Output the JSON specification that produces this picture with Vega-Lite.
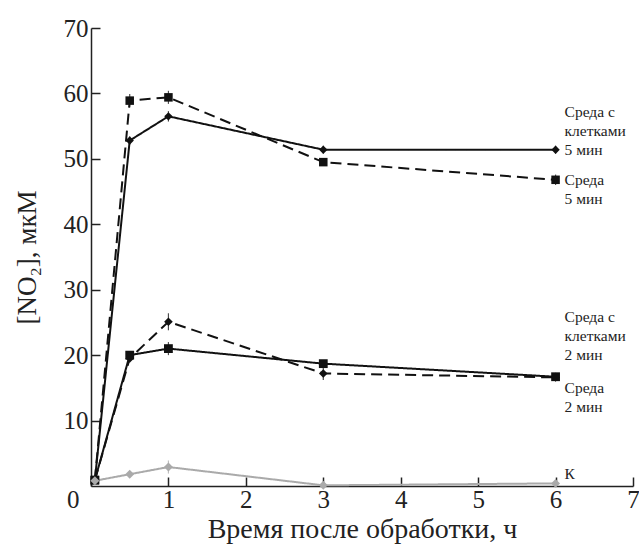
{
  "$schema": "https://vega.github.io/schema/vega-lite/v6.json",
  "width": 542,
  "height": 458,
  "autosize": {"type": "none"},
  "padding": {"left": 91, "top": 28, "right": 6, "bottom": 58},
  "background": "white",
  "config": {
    "view": {"stroke": null},
    "font": "Times New Roman, Liberation Serif, serif",
    "axis": {
      "domainColor": "#222",
      "domainWidth": 1.5,
      "tickColor": "#222",
      "tickWidth": 1.5,
      "tickSize": -9,
      "grid": false,
      "labelFlush": false,
      "labelOverlap": false,
      "labelFont": "Times New Roman, Liberation Serif, serif",
      "labelFontSize": 25,
      "labelColor": "#222",
      "titleFont": "Times New Roman, Liberation Serif, serif",
      "titleFontWeight": "normal",
      "titleColor": "#222"
    }
  },
  "datasets": {
    "series": [
      {"s": "Среда с клетками 5 мин", "t": 0.05, "v": 0.9, "err": 0},
      {"s": "Среда с клетками 5 мин", "t": 0.5, "v": 52.8, "err": 0.6},
      {"s": "Среда с клетками 5 мин", "t": 1, "v": 56.5, "err": 0.8},
      {"s": "Среда с клетками 5 мин", "t": 3, "v": 51.4, "err": 0.6},
      {"s": "Среда с клетками 5 мин", "t": 6, "v": 51.4, "err": 0.6},
      {"s": "Среда 5 мин", "t": 0.05, "v": 0.9, "err": 0},
      {"s": "Среда 5 мин", "t": 0.5, "v": 58.9, "err": 1.0},
      {"s": "Среда 5 мин", "t": 1, "v": 59.4, "err": 1.0},
      {"s": "Среда 5 мин", "t": 3, "v": 49.5, "err": 0.6},
      {"s": "Среда 5 мин", "t": 6, "v": 46.8, "err": 0.8},
      {"s": "Среда с клетками 2 мин", "t": 0.05, "v": 0.9, "err": 0},
      {"s": "Среда с клетками 2 мин", "t": 0.5, "v": 19.5, "err": 0.6},
      {"s": "Среда с клетками 2 мин", "t": 1, "v": 25.1, "err": 1.3},
      {"s": "Среда с клетками 2 мин", "t": 3, "v": 17.2, "err": 1.0},
      {"s": "Среда с клетками 2 мин", "t": 6, "v": 16.6, "err": 0.5},
      {"s": "Среда 2 мин", "t": 0.05, "v": 0.9, "err": 0},
      {"s": "Среда 2 мин", "t": 0.5, "v": 20.0, "err": 0.5},
      {"s": "Среда 2 мин", "t": 1, "v": 21.0, "err": 1.0},
      {"s": "Среда 2 мин", "t": 3, "v": 18.7, "err": 0.5},
      {"s": "Среда 2 мин", "t": 6, "v": 16.7, "err": 0.6},
      {"s": "К", "t": 0.05, "v": 0.8, "err": 0},
      {"s": "К", "t": 0.5, "v": 1.8, "err": 0.5},
      {"s": "К", "t": 1, "v": 2.9, "err": 1.0},
      {"s": "К", "t": 3, "v": 0.1, "err": 0.4},
      {"s": "К", "t": 6, "v": 0.4, "err": 0.3}
    ],
    "labels": [
      {"label": "Среда с\nклетками\n5 мин", "t": 6, "v": 57.2},
      {"label": "Среда\n5 мин", "t": 6, "v": 46.8},
      {"label": "Среда с\nклетками\n2 мин", "t": 6, "v": 25.8},
      {"label": "Среда\n2 мин", "t": 6, "v": 15.0},
      {"label": "К", "t": 6, "v": 1.8}
    ]
  },
  "layer": [
    {
      "data": {"name": "series"},
      "transform": [
        {"calculate": "datum.v - datum.err", "as": "lo"},
        {"calculate": "datum.v + datum.err", "as": "hi"},
        {"filter": "datum.err > 0"}
      ],
      "mark": {"type": "rule", "strokeWidth": 1.2, "opacity": 0.75},
      "encoding": {
        "x": {"field": "t", "type": "quantitative"},
        "y": {"field": "lo", "type": "quantitative"},
        "y2": {"field": "hi"},
        "color": {"field": "s", "type": "nominal", "scale": {"domain": ["Среда с клетками 5 мин", "Среда 5 мин", "Среда с клетками 2 мин", "Среда 2 мин", "К"], "range": ["#111111", "#111111", "#111111", "#111111", "#aaaaaa"]}, "legend": null}
      }
    },
    {
      "data": {"name": "series"},
      "mark": {"type": "line", "strokeWidth": 2},
      "encoding": {
        "x": {
          "field": "t", "type": "quantitative",
          "scale": {"domain": [0, 7], "nice": false, "zero": false},
          "axis": {
            "values": [0, 1, 2, 3, 4, 5, 6, 7],
            "format": "d",
            "labelAlign": {"condition": {"test": "datum.value === 0", "value": "right"}, "value": "center"},
            "labelOffset": {"condition": {"test": "datum.value === 0", "value": -12}, "value": 0},
            "title": "Время после обработки, ч",
            "titleFontSize": 28,
            "labelPadding": 10,
            "titleY": 51,
            "titleBaseline": "alphabetic",
            "titleAlign": "center"
          }
        },
        "y": {
          "field": "v", "type": "quantitative",
          "scale": {"domain": [0, 70], "nice": false},
          "axis": {
            "values": [10, 20, 30, 40, 50, 60, 70],
            "format": "d",
            "title": "[NO₂], мкМ",
            "titleFontSize": 27,
            "labelPadding": 12,
            "titleX": -64,
            "titleY": 229,
            "titleAngle": -90,
            "titleAlign": "center",
            "titleBaseline": "middle"
          }
        },
        "detail": {"field": "s"},
        "color": {"field": "s", "type": "nominal", "legend": null},
        "strokeDash": {"field": "s", "type": "nominal", "scale": {"domain": ["Среда с клетками 5 мин", "Среда 5 мин", "Среда с клетками 2 мин", "Среда 2 мин", "К"], "range": [[1, 0], [11, 6], [11, 6], [1, 0], [1, 0]]}, "legend": null}
      }
    },
    {
      "data": {"name": "series"},
      "mark": {"type": "point", "filled": true, "opacity": 1},
      "encoding": {
        "x": {"field": "t", "type": "quantitative"},
        "y": {"field": "v", "type": "quantitative"},
        "color": {"field": "s", "type": "nominal", "legend": null},
        "shape": {"field": "s", "type": "nominal", "scale": {"domain": ["Среда с клетками 5 мин", "Среда 5 мин", "Среда с клетками 2 мин", "Среда 2 мин", "К"], "range": ["diamond", "square", "diamond", "square", "diamond"]}, "legend": null},
        "size": {"field": "s", "type": "nominal", "scale": {"domain": ["Среда с клетками 5 мин", "Среда 5 мин", "Среда с клетками 2 мин", "Среда 2 мин", "К"], "range": [70, 80, 70, 80, 30]}, "legend": null}
      }
    },
    {
      "data": {"name": "labels"},
      "mark": {"type": "text", "align": "left", "baseline": "middle", "dx": 9, "font": "Times New Roman, Liberation Serif, serif", "fontSize": 15.5, "lineHeight": 19, "lineBreak": "\n", "color": "#222"},
      "encoding": {
        "x": {"field": "t", "type": "quantitative"},
        "y": {"field": "v", "type": "quantitative"},
        "text": {"field": "label"}
      }
    }
  ]
}
